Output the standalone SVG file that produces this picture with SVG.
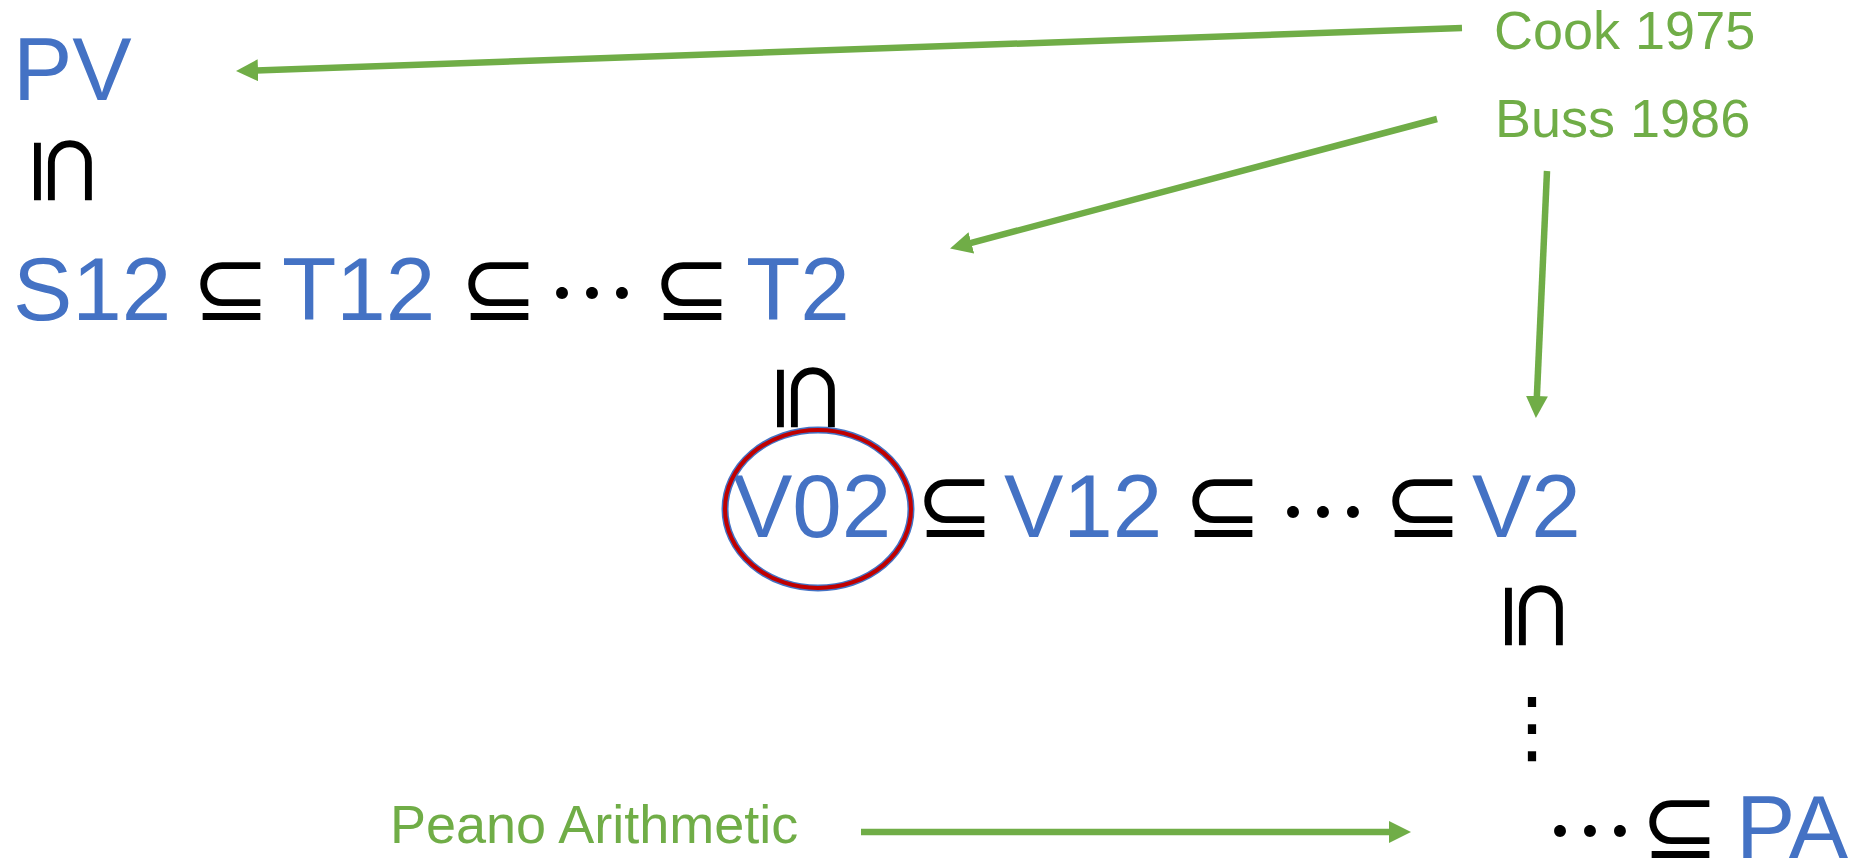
<svg xmlns="http://www.w3.org/2000/svg" width="1869" height="866" viewBox="0 0 1869 866">
<style>
.t{font-family:"Liberation Sans",Arial,sans-serif;font-size:89px;fill:#4472C4}
.g{font-family:"Liberation Sans",Arial,sans-serif;font-size:54px;fill:#70AD47}
.s{font-family:"DejaVu Sans",sans-serif;font-size:94px;fill:#000;text-anchor:middle}
.d{font-family:"Noto Sans CJK JP","DejaVu Sans",sans-serif;font-size:90px;fill:#000;text-anchor:middle}
.a{stroke:#70AD47;stroke-width:6.5;fill:none}
</style>
<defs>
<marker id="ah" markerUnits="userSpaceOnUse" markerWidth="24" markerHeight="24" refX="2" refY="11" orient="auto" viewBox="0 0 24 24">
<path d="M0,0 L22,11 L0,22 z" fill="#70AD47"/>
</marker>
</defs>
<rect width="1869" height="866" fill="#fff"/>
<g id="pv"><text class="t" x="13" y="100">PV</text></g>
<g id="sub-pv"><text class="s" transform="rotate(90 62 171)" x="62" y="199">⊆</text></g>
<g id="row2">
<text class="t" x="13" y="320">S12</text>
<text class="s" x="231" y="320">⊆</text>
<text class="t" x="282" y="320">T12</text>
<text class="s" x="499" y="320">⊆</text>
<text class="d" x="592" y="327">⋯</text>
<text class="s" x="692" y="320">⊆</text>
<text class="t" x="746" y="320">T2</text>
</g>
<g id="sub-t2"><text class="s" transform="rotate(90 805 398)" x="805" y="426">⊆</text></g>
<g id="row3">
<text class="t" x="733" y="537">V02</text>
<text class="s" x="955" y="537">⊆</text>
<text class="t" x="1004" y="537">V12</text>
<text class="s" x="1223" y="537">⊆</text>
<text class="d" x="1323" y="546">⋯</text>
<text class="s" x="1423" y="537">⊆</text>
<text class="t" x="1472" y="537">V2</text>
</g>
<g id="circle">
<ellipse cx="818" cy="509" rx="93" ry="79" fill="none" stroke="#4472C4" stroke-width="7"/>
<ellipse cx="818" cy="509" rx="93" ry="79" fill="none" stroke="#C00000" stroke-width="4"/>
</g>
<g id="sub-v2"><text class="s" transform="rotate(90 1533 616)" x="1533" y="644">⊆</text></g>
<g id="vdots"><text class="d" x="1532" y="754" style="font-size:80px">⋮</text></g>
<g id="row4">
<text class="d" x="1590" y="865">⋯</text>
<text class="s" x="1680" y="858">⊆</text>
<text class="t" x="1736" y="858">PA</text>
</g>
<g id="labels">
<text class="g" x="1494" y="49">Cook 1975</text>
<text class="g" x="1495" y="137">Buss 1986</text>
<text class="g" x="390" y="843">Peano Arithmetic</text>
</g>
<g id="connectors">
<line class="a" x1="1462" y1="28" x2="256" y2="70.4" marker-end="url(#ah)"/>
<line class="a" x1="1437" y1="119" x2="969.4" y2="243.4" marker-end="url(#ah)"/>
<line class="a" x1="1547" y1="171" x2="1536.8" y2="398" marker-end="url(#ah)"/>
<line class="a" x1="861" y1="832" x2="1391" y2="832" marker-end="url(#ah)"/>
</g>
</svg>
